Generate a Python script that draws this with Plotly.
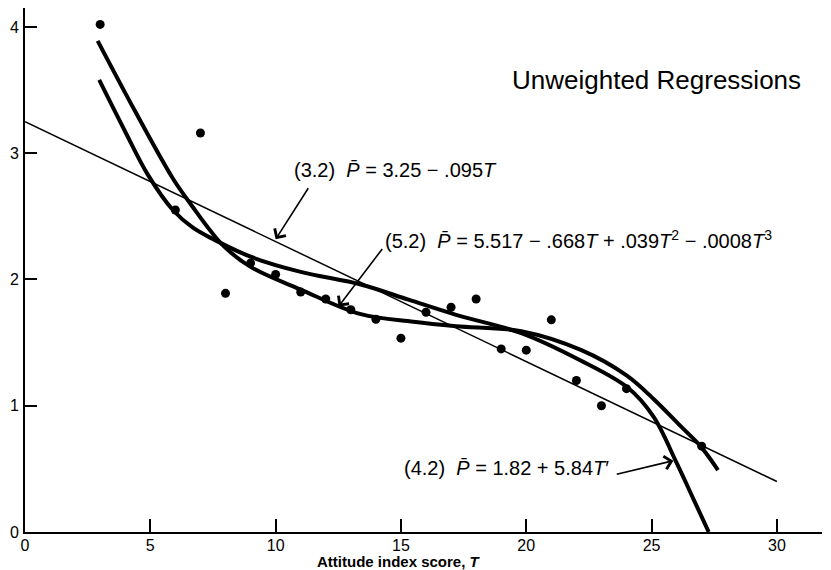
import plotly.graph_objects as go

# Observed data points (attitude index score T, mean P)
T_obs = [3, 6, 7, 8, 9, 10, 11, 12, 13, 14, 15, 16, 17, 18, 19, 20, 21, 22, 23, 24, 27]
P_obs = [4.02, 2.55, 3.16, 1.89, 2.13, 2.04, 1.90, 1.845, 1.76, 1.685, 1.535,
         1.74, 1.78, 1.845, 1.45, 1.44, 1.68, 1.20, 1.00, 1.135, 0.68]

# (3.2) linear regression, endpoints
lin_T = [0, 30]
lin_P = [3.25, 0.40]

# (5.2) cubic regression curve
cub_T = [2.9, 4.4, 5.9, 6.6, 7.9, 9.0, 11.0, 13.4, 15.5, 17.2, 19.8, 22.2, 24.0, 25.1, 26.15, 26.95, 27.65]
cub_P = [3.89, 3.33, 2.80, 2.60, 2.27, 2.10, 1.92, 1.725, 1.665, 1.63, 1.59, 1.44, 1.24, 1.05, 0.84, 0.68, 0.49]

# (4.2) transformed regression curve
tr_T = [2.96, 4.0, 4.9, 5.9, 6.7, 7.5, 9.0, 11.0, 13.4, 15.3, 17.2, 19.8, 22.15, 24.07, 25.07, 26.0, 26.68, 27.28]
tr_P = [3.58, 3.17, 2.83, 2.55, 2.41, 2.32, 2.18, 2.06, 1.96, 1.84, 1.72, 1.575, 1.36, 1.14, 0.915, 0.547, 0.257, 0.0]

x_ticks = [0, 5, 10, 15, 20, 25, 30]
y_ticks = [0, 1, 2, 3, 4]

FONT = "Liberation Sans, Arial, sans-serif"
NB = "\u00a0"
PBAR = "<i>P\u0304</i>"

fig = go.Figure()
fig.add_trace(go.Scatter(x=lin_T, y=lin_P, mode="lines",
                         line=dict(color="black", width=1.5), showlegend=False))
fig.add_trace(go.Scatter(x=cub_T, y=cub_P, mode="lines",
                         line=dict(color="black", width=4, shape="spline", smoothing=1.0),
                         showlegend=False))
fig.add_trace(go.Scatter(x=tr_T, y=tr_P, mode="lines",
                         line=dict(color="black", width=4, shape="spline", smoothing=1.0),
                         showlegend=False))
fig.add_trace(go.Scatter(x=T_obs, y=P_obs, mode="markers",
                         marker=dict(color="black", size=9), showlegend=False))

ann = []
ann.append(dict(x=19.36, y=3.577, xref="x", yref="y", text="Unweighted Regressions",
                showarrow=False, xanchor="left", yanchor="middle",
                font=dict(size=26, color="black", family=FONT)))
ann.append(dict(x=10.66, y=2.87, xref="x", yref="y",
                text="(3.2)" + NB + NB + PBAR + NB + "=" + NB + "3.25" + NB + "\u2212" + NB + ".095<i>T</i>",
                showarrow=False, xanchor="left", yanchor="middle",
                font=dict(size=20, color="black", family=FONT)))
ann.append(dict(x=14.29, y=2.318, xref="x", yref="y",
                text="(5.2)" + NB + NB + PBAR + NB + "=" + NB + "5.517" + NB + "\u2212" + NB + ".668<i>T</i>"
                     + NB + "+" + NB + ".039<i>T</i><sup>2</sup>" + NB + "\u2212" + NB + ".0008<i>T</i><sup>3</sup>",
                showarrow=False, xanchor="left", yanchor="middle",
                font=dict(size=20, color="black", family=FONT)))
ann.append(dict(x=15.05, y=0.51, xref="x", yref="y",
                text="(4.2)" + NB + NB + PBAR + NB + "=" + NB + "1.82" + NB + "+" + NB + "5.84<i>T</i>\u2032",
                showarrow=False, xanchor="left", yanchor="middle",
                font=dict(size=20, color="black", family=FONT)))

# arrows (head x,y ; tail ax,ay)
for hx, hy, tx, ty in [(10.0, 2.318, 11.34, 2.734),
                       (12.51, 1.785, 14.3, 2.254),
                       (25.87, 0.565, 23.55, 0.455)]:
    ann.append(dict(x=hx, y=hy, ax=tx, ay=ty, xref="x", yref="y", axref="x", ayref="y",
                    text="", showarrow=True, arrowhead=4, arrowsize=1.6, arrowwidth=1.6,
                    arrowcolor="black", standoff=0, startstandoff=0))

# x-axis title
ann.append(dict(x=14.91, y=0, xref="x", yref="paper", yshift=-29.5,
                text="<b>Attitude index score, <i>T</i></b>", showarrow=False,
                xanchor="center", yanchor="middle",
                font=dict(size=15, color="black", family=FONT)))

# the page body has an 8px margin, so the figure is sized to fit the 831x570 window
fig.update_layout(
    width=823, height=562,
    margin=dict(l=17, r=9, t=0, b=37.5, autoexpand=False),
    paper_bgcolor="white", plot_bgcolor="white",
    annotations=ann,
    showlegend=False,
)
fig.update_xaxes(range=[0, 31.8], tickvals=x_ticks, ticktext=[str(v) for v in x_ticks],
                 automargin=False, ticklabelstandoff=-2,
                 showgrid=False, zeroline=False, showline=True, linecolor="black", linewidth=2,
                 ticks="inside", ticklen=13, tickwidth=2, tickcolor="black",
                 tickfont=dict(size=16, color="black", family=FONT))
fig.update_yaxes(range=[0, 4.15], tickvals=y_ticks, ticktext=[str(v) for v in y_ticks],
                 automargin=False, ticklabelstandoff=1,
                 showgrid=False, zeroline=False, showline=True, linecolor="black", linewidth=2,
                 ticks="inside", ticklen=12, tickwidth=2, tickcolor="black",
                 tickfont=dict(size=16, color="black", family=FONT))

fig.write_html("out.html")
